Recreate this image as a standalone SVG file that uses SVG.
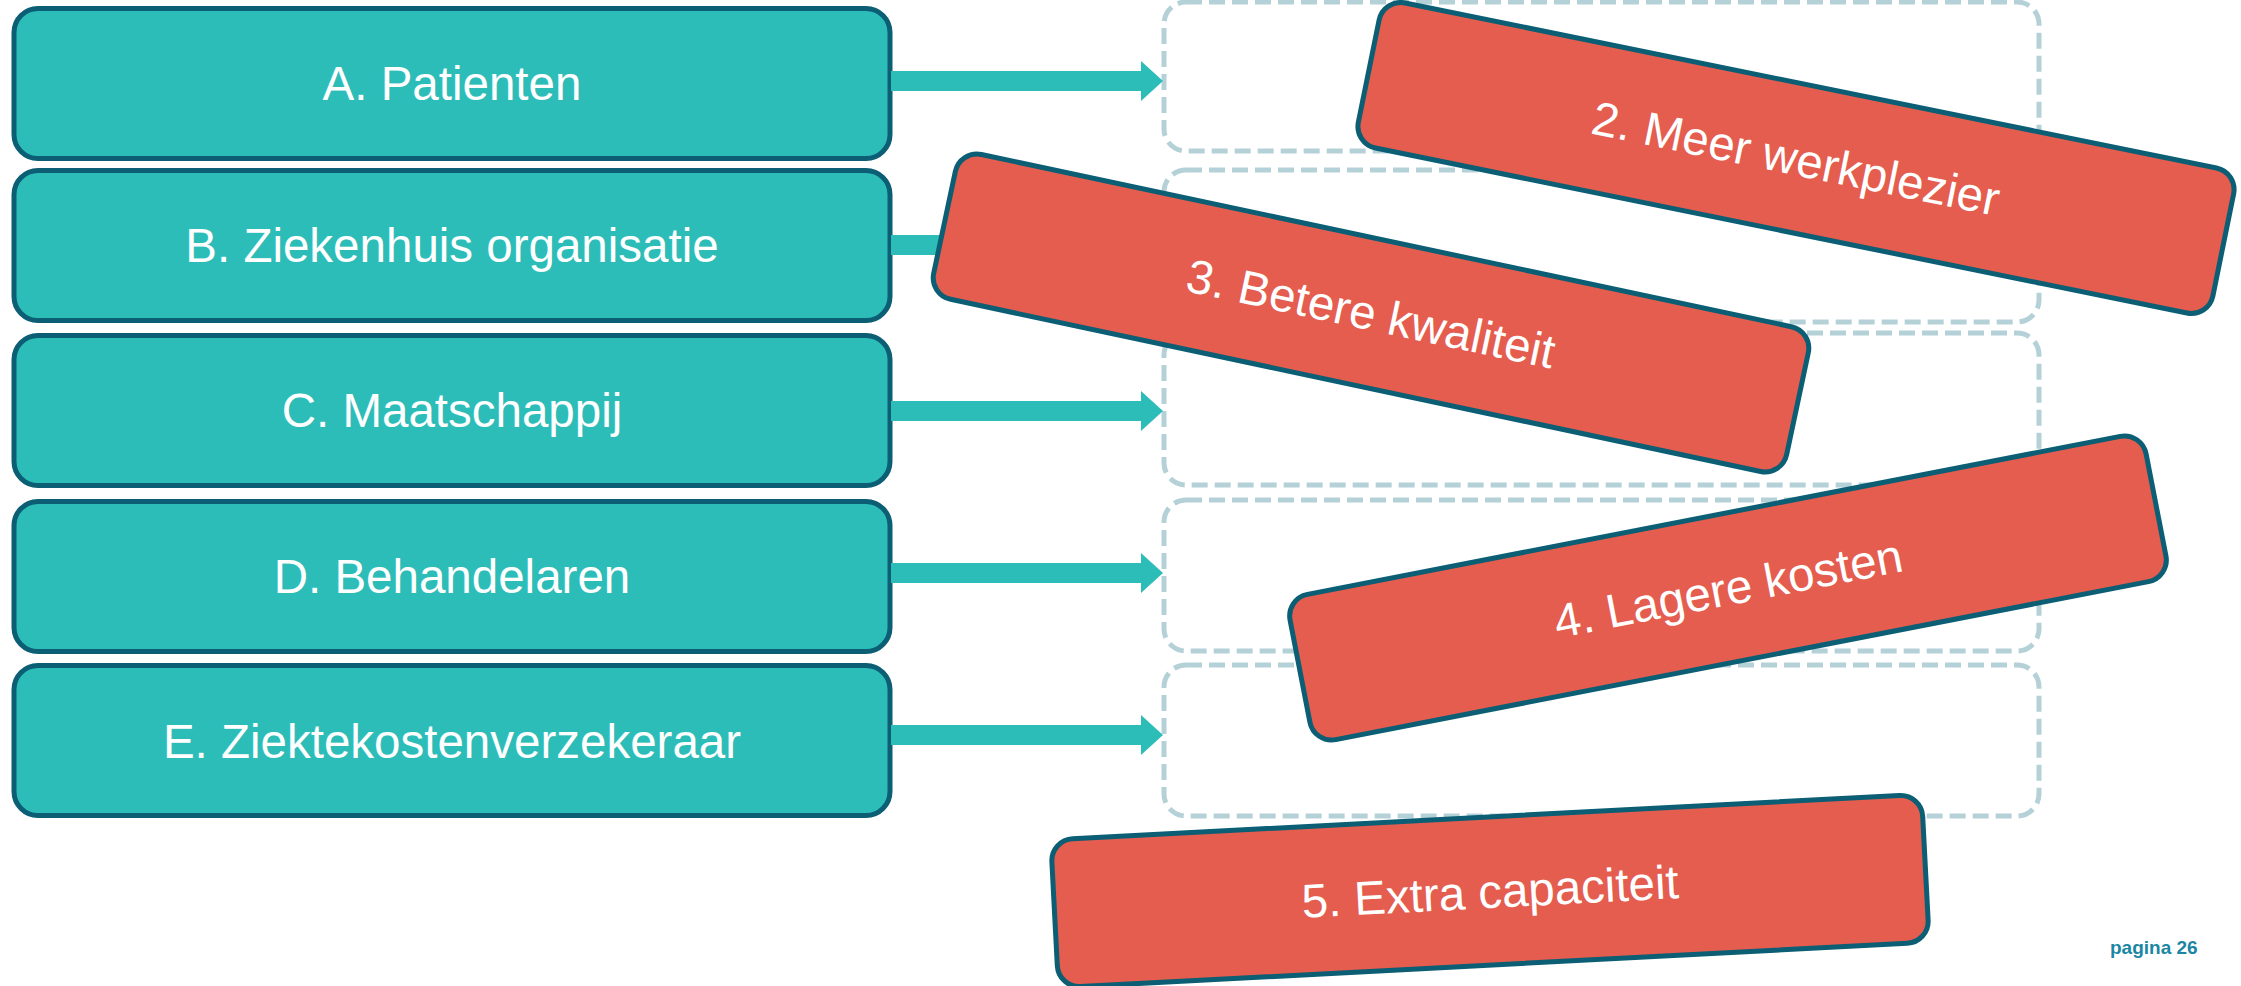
<svg xmlns="http://www.w3.org/2000/svg" width="2241" height="986" viewBox="0 0 2241 986">
  <style>
    .stake { fill: #2dbdb9; stroke: #0b5e73; stroke-width: 5; }
    .slot { fill: none; stroke: #b5d1d8; stroke-width: 5; stroke-dasharray: 16 7; }
    .goal { fill: #e45d4f; stroke: #0b5e73; stroke-width: 5; }
    .lbl { font-family: "Liberation Sans", Arial, sans-serif; font-size: 47.5px; fill: #ffffff; text-anchor: middle; }
    .arrow { fill: #2dbdb9; }
    .page { font-family: "Liberation Sans", Arial, sans-serif; font-size: 19px; font-weight: bold; fill: #1a86a3; }
  </style>
  <defs>
    <!-- horizontal block arrow, origin at its left end, centred vertically -->
    <path id="blockArrow" d="M0,-10 H250 V-20 L272,0 L250,20 V10 H0 Z"/>
  </defs>

  <rect width="2241" height="986" fill="#ffffff"/>

  <!-- stakeholder column -->
  <g id="node-a"><rect class="stake" x="14" y="8.5" width="876" height="150" rx="24"/><text class="lbl" x="452" y="100">A. Patienten</text></g>
  <g id="node-b"><rect class="stake" x="14" y="170.5" width="876" height="150" rx="24"/><text class="lbl" x="452" y="262">B. Ziekenhuis organisatie</text></g>
  <g id="node-c"><rect class="stake" x="14" y="335.5" width="876" height="150" rx="24"/><text class="lbl" x="452" y="427">C. Maatschappij</text></g>
  <g id="node-d"><rect class="stake" x="14" y="501.5" width="876" height="150" rx="24"/><text class="lbl" x="452" y="593">D. Behandelaren</text></g>
  <g id="node-e"><rect class="stake" x="14" y="665.5" width="876" height="150" rx="24"/><text class="lbl" x="452" y="758">E. Ziektekostenverzekeraar</text></g>

  <!-- empty target slots -->
  <g id="slots">
    <rect class="slot" x="1164" y="2" width="875" height="149" rx="22"/>
    <rect class="slot" x="1164" y="170" width="875" height="152" rx="22"/>
    <rect class="slot" x="1164" y="333" width="875" height="152" rx="22"/>
    <rect class="slot" x="1164" y="500" width="875" height="151" rx="22"/>
    <rect class="slot" x="1164" y="665" width="875" height="151" rx="22"/>
  </g>

  <!-- connectors -->
  <g id="connectors" class="arrow">
    <use href="#blockArrow" x="891" y="81"/>
    <use href="#blockArrow" x="891" y="245"/>
    <use href="#blockArrow" x="891" y="411"/>
    <use href="#blockArrow" x="891" y="573"/>
    <use href="#blockArrow" x="891" y="735"/>
  </g>

  <!-- tilted outcome cards -->
  <g id="node-2" transform="translate(1796,158) rotate(11.5)">
    <rect class="goal" x="-436" y="-74" width="872" height="148" rx="22"/>
    <text class="lbl" x="0" y="17">2. Meer werkplezier</text>
  </g>
  <g id="node-3" transform="translate(1371,313) rotate(12)">
    <rect class="goal" x="-436" y="-74" width="872" height="148" rx="22"/>
    <text class="lbl" x="0" y="17">3. Betere kwaliteit</text>
  </g>
  <g id="node-4" transform="translate(1728,588) rotate(-11)">
    <rect class="goal" x="-436" y="-74" width="872" height="148" rx="22"/>
    <text class="lbl" x="0" y="17">4. Lagere kosten</text>
  </g>
  <g id="node-5" transform="translate(1490,891) rotate(-3)">
    <rect class="goal" x="-436" y="-74" width="872" height="148" rx="22"/>
    <text class="lbl" x="0" y="17">5. Extra capaciteit</text>
  </g>

  <text class="page" x="2110" y="954">pagina 26</text>
</svg>
